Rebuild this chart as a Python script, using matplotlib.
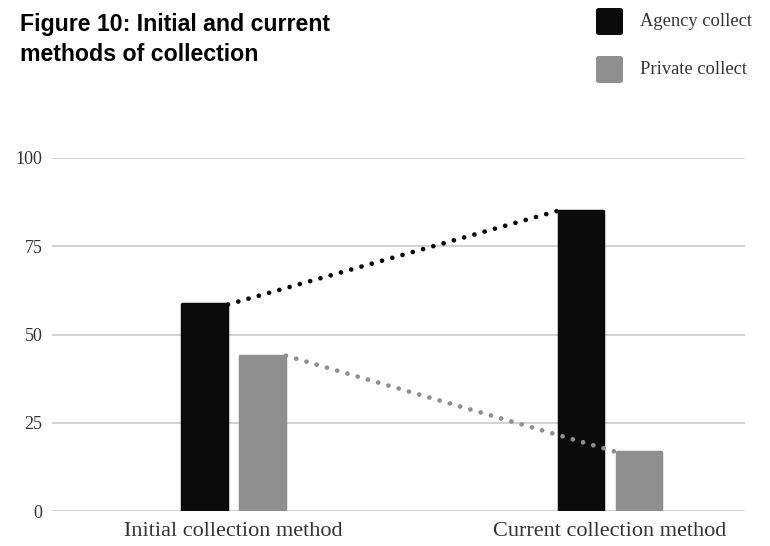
import matplotlib
matplotlib.use("Agg")
import matplotlib.pyplot as plt
import numpy as np
from matplotlib.patches import FancyBboxPatch

categories = ["Initial collection method", "Current collection method"]
series_names = ["Agency collect", "Private collect"]
agency = [58.5, 85]
private = [44, 16.8]
yticks = [0, 25, 50, 75, 100]

black = "#0b0b0b"
gray = "#8f8f8f"
grid_c = "#c9c9c9"
text_c = "#333333"

fig = plt.figure(figsize=(7.7, 5.46), dpi=100)
ax = fig.add_axes([52/770, 1 - 511/546, (745-52)/770, (511-158)/546])

x = np.arange(len(categories))
w = 0.118
off = 0.077
for vals, sgn, col in [(agency, -1, black), (private, 1, gray)]:
    ax.bar(x + sgn*off, vals, width=w, color=col, edgecolor=col, linewidth=2.5,
           joinstyle="round", zorder=3)

bw = 0.125
# connecting dotted lines
l1, = ax.plot([x[0] - off + bw/2, x[1] - off - bw/2], agency, color=black,
              lw=3.4, dash_capstyle="round", zorder=4)
l1.set_dashes((0.01, 2.25))
l2, = ax.plot([x[0] + off + bw/2, x[1] + off - bw/2], private, color=gray,
              lw=3.4, dash_capstyle="round", zorder=4)
l2.set_dashes((0.01, 2.25))

ax.set_xlim(-0.482, 1.359)
ax.set_ylim(0, 100)
ax.set_yticks(yticks)
ax.set_yticklabels([str(t) for t in yticks], family="Liberation Serif",
                   fontsize=13, color=text_c)
ax.set_xticks(x)
ax.set_xticklabels(categories, family="Liberation Serif", fontsize=16, color=text_c)
ax.tick_params(axis="y", length=0, pad=7)
ax.tick_params(axis="x", length=0, pad=8)
for s in ax.spines.values():
    s.set_visible(False)
ax.grid(axis="y", color=grid_c, lw=1.2, zorder=0)
ax.set_axisbelow(True)

# title
fig.text(20/770, 1 - 13/546, "Figure 10: Initial and current\nmethods of collection",
         family="Liberation Sans", fontweight="bold", fontsize=16.7, va="top",
         ha="left", color="#000000", linespacing=1.4)

# legend
for i, (name, col) in enumerate(zip(series_names, [black, gray])):
    y0 = 8 + i*48
    p = FancyBboxPatch((596/770, 1 - (y0+27)/546), 27/770, 27/546,
                       boxstyle="round,pad=0,rounding_size=0.004",
                       transform=fig.transFigure, facecolor=col, edgecolor="none")
    fig.patches.append(p)
    fig.text(640/770, 1 - (y0+14)/546, name, family="Liberation Serif",
             fontsize=13.3, va="center", ha="left", color=text_c)

fig.savefig("out.png", dpi=100)
